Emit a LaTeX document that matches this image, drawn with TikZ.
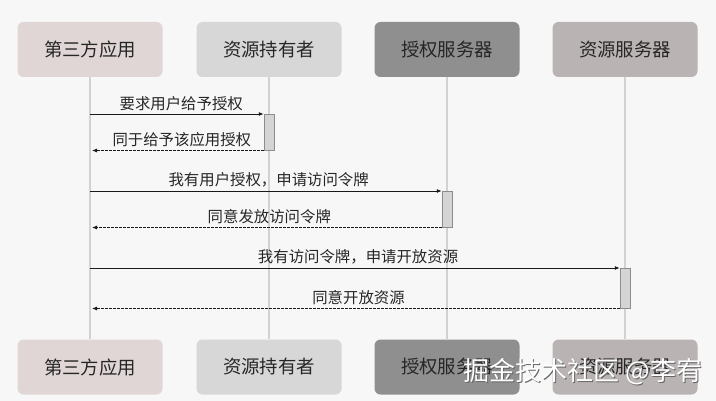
\documentclass[tikz,border=0pt]{standalone}
\usepackage{fontspec}
\setmainfont{Noto Sans CJK SC}
\usetikzlibrary{arrows.meta}
\definecolor{bgcol}{HTML}{F8F7F7}
\definecolor{appcol}{HTML}{E0D6D6}
\definecolor{ownercol}{HTML}{D7D7D7}
\definecolor{authcol}{HTML}{8F8F8F}
\definecolor{rescol}{HTML}{BAB3B3}
\definecolor{lifecol}{HTML}{D2D2D2}
\tikzset{
  actor/.style={rounded corners=6pt,minimum width=145pt,minimum height=55pt,font=\fontsize{18.4}{21}\selectfont,text=black!85},
  lifeline/.style={draw=lifecol,line width=1.6pt},
  actbox/.style={draw=black!45,fill=black!17,line width=.5pt,minimum width=10pt,minimum height=36pt,inner sep=0pt},
  call/.style={draw=black!90,line width=.8pt,-{Latex[length=5pt,width=4pt]}},
  reply/.style={draw=black!90,line width=.8pt,dashed,dash pattern=on 2.5pt off 1.5pt,-{Latex[length=5pt,width=4pt]}},
  msglab/.style={font=\fontsize{15.4}{17}\selectfont,text=black!85,inner sep=1pt,above=2pt}
}
\begin{document}
\begin{tikzpicture}[x=1pt,y=-1pt]
\fill[bgcol] (0,0) rectangle (716,401);
\useasboundingbox (0,0) rectangle (716,401);
% actors, top and bottom
\foreach \i/\x/\col/\lab in {1/90/appcol/第三方应用,2/269/ownercol/资源持有者,3/447/authcol/授权服务器,4/625/rescol/资源服务器}{
  \node[actor,fill=\col] (t\i) at (\x,49.5) {\lab};
  \node[actor,fill=\col] (b\i) at (\x,367) {\lab};
  \draw[lifeline] (t\i.south) -- (b\i.north);
}
% activations
\node[actbox,anchor=north] (act2) at (269,114) {};
\node[actbox,anchor=north] (act3) at (447,191) {};
\node[actbox,anchor=north,minimum height=40pt] (act4) at (625,268) {};
% messages
\draw[call] (t1.south |- act2.north west) -- node[msglab,pos=.525] {要求用户给予授权} (act2.north west);
\draw[reply] (act2.south west) -- node[msglab,pos=.477] {同于给予该应用授权} ([xshift=2pt]t1.south |- act2.south west);
\draw[call] (t1.south |- act3.north west) -- node[msglab,pos=.508] {我有用户授权，申请访问令牌} (act3.north west);
\draw[reply] (act3.south west) -- node[msglab,pos=.493] {同意发放访问令牌} ([xshift=2pt]t1.south |- act3.south west);
\draw[call] (t1.south |- act4.north west) -- node[msglab,pos=.506] {我有访问令牌，申请开放资源} (act4.north west);
\draw[reply] (act4.south west) -- node[msglab,pos=.495] {同意开放资源} ([xshift=2pt]t1.south |- act4.south west);
% watermark
\node[font=\fontsize{26}{28}\selectfont,text=black!60] at (584.2,373.2) {掘金技术社区 @李宥};
\node[font=\fontsize{26}{28}\selectfont,text=white] (mark) at (583,372) {掘金技术社区 @李宥};
\end{tikzpicture}
\end{document}
